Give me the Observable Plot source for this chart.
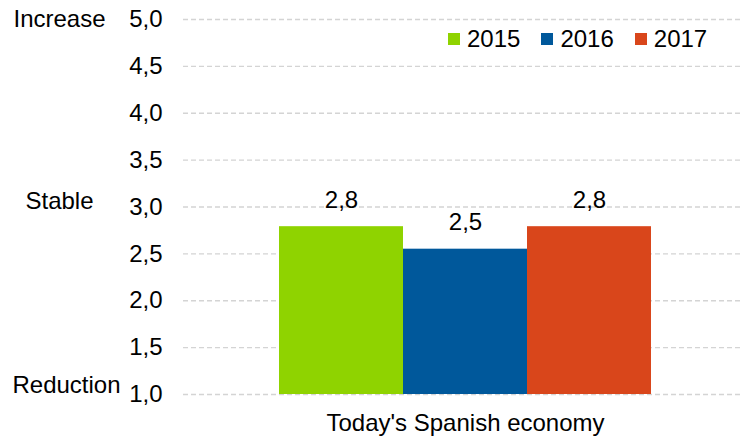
<!DOCTYPE html>
<html>
<head>
<meta charset="utf-8">
<script src="https://cdn.jsdelivr.net/npm/d3@7"></script>
<script src="https://cdn.jsdelivr.net/npm/@observablehq/plot@0.6"></script>
<style>
  body { margin: 0; background: #fff; font-family: "Liberation Sans", Arial, sans-serif; }
  #wrap { position: relative; width: 740px; height: 440px; }
  #legend { position: absolute; top: 25px; left: 448px; display: flex; font-size: 24px; line-height: 28px; color: #000; }
  #legend .item { display: flex; align-items: center; margin-right: 21px; }
  #legend .sw { width: 12px; height: 12px; margin-right: 7px; }
</style>
</head>
<body>
<div id="wrap"><div id="legend"></div></div>
<script>
const years = ["2015", "2016", "2017"];
const values = [2.79, 2.55, 2.79];
const colors = ["#8fd300", "#00589b", "#d9461b"];
const category = "Today's Spanish economy";
const yTicks = [1, 1.5, 2, 2.5, 3, 3.5, 4, 4.5, 5];
const sideLabels = ["Increase", "Stable", "Reduction"];
const sideValues = [5, 3, 1];

const fmt = d => d.toFixed(1).replace(".", ",");
const data = years.map((y, i) => ({year: y, value: values[i]}));
const side = sideLabels.map((t, i) => ({text: t, value: sideValues[i]}));
const sideDx = [-124, -124, -117];
const sideDy = [0, -6, -9];

const chart = Plot.plot({
  width: 740,
  height: 440,
  marginLeft: 183,
  marginRight: 0,
  marginTop: 19,
  marginBottom: 46,
  style: {fontFamily: "Liberation Sans, Arial, sans-serif", fontSize: "24px", color: "#000", background: "#fff"},
  x: {domain: years, range: [278, 652], padding: 0, axis: null},
  y: {domain: [1, 5], ticks: yTicks, tickFormat: fmt, tickSize: 0, tickPadding: 21, label: null},
  color: {domain: years, range: colors},
  marks: [
    Plot.ruleY(yTicks, {stroke: "#d4d4d4", strokeWidth: 1.3, strokeDasharray: "5,3"}),
    Plot.barY(data, {x: "year", y1: 1, y2: "value", fill: "year", inset: 0}),
    Plot.text(data, {x: "year", y: "value", text: d => fmt(d.value), lineAnchor: "bottom", dy: -19, fontSize: 24, fill: "#000"}),
    ...side.map((d, i) => Plot.text([d], {frameAnchor: "left", y: "value", text: "text", dx: sideDx[i], dy: sideDy[i], textAnchor: "middle", fontSize: 24, fill: "#000"})),
    Plot.text([category], {frameAnchor: "bottom", text: d => d, x: () => "2016", dy: 36, fontSize: 24, fill: "#000"})
  ]
});
document.getElementById("wrap").prepend(chart);

const legend = document.getElementById("legend");
years.forEach((y, i) => {
  const item = document.createElement("div");
  item.className = "item";
  const sw = document.createElement("span");
  sw.className = "sw";
  sw.style.background = colors[i];
  const t = document.createElement("span");
  t.textContent = y;
  item.append(sw, t);
  legend.append(item);
});
</script>
</body>
</html>
